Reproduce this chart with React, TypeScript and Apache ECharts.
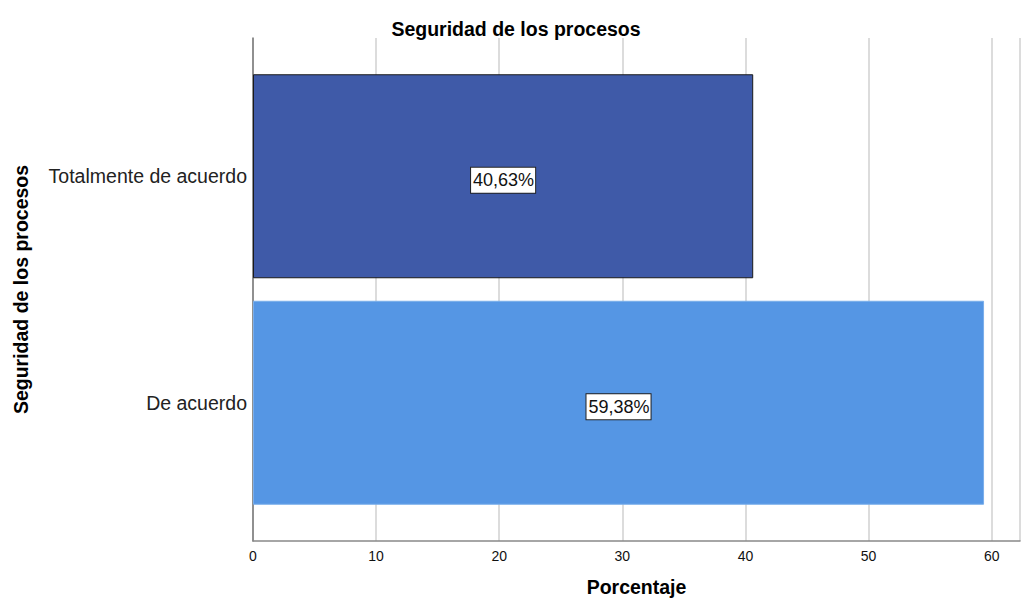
import React, { useEffect, useRef } from "react";
import * as echarts from "echarts";

const categories = ["De acuerdo", "Totalmente de acuerdo"];
const values = [59.38, 40.63];
const barColors = ["#5596E4", "#3F5AA8"];
const barBorders = ["#7AAEEA", "#1a1a1a"];
const xTicks = [0, 10, 20, 30, 40, 50, 60];

const FONT = "'Liberation Sans', Arial, sans-serif";

export default function App() {
  const ref = useRef<HTMLDivElement>(null);
  useEffect(() => {
    if (!ref.current) return;
    const chart = echarts.init(ref.current, null, { renderer: "svg" });
    const xMax = 62.3;
    chart.setOption({
      animation: false,
      backgroundColor: "#ffffff",
      textStyle: { fontFamily: FONT },
      title: {
        text: "Seguridad de los procesos",
        left: 511,
        top: 14,
        textAlign: "center",
        textStyle: { fontFamily: FONT, fontSize: 19.5, fontWeight: "bold", color: "#000" },
      },
      grid: [
        { left: 253, right: 1, top: 63, height: 453, containLabel: false, outerBoundsMode: "none" },
        { left: 253, right: 1, top: 38, height: 503, containLabel: false, outerBoundsMode: "none" },
      ],
      xAxis: [
        {
          gridIndex: 0,
          type: "value",
          min: 0,
          max: xMax,
          show: false,
        },
        {
          gridIndex: 1,
          type: "value",
          min: 0,
          max: xMax,
          interval: 10,
          axisLine: { show: true, lineStyle: { color: "#888", width: 1.5 } },
          axisTick: { show: false },
          axisLabel: {
            color: "#111",
            fontSize: 14,
            fontFamily: FONT,
            margin: 8,
            customValues: xTicks,
            formatter: (v: number) => (xTicks.includes(v) ? String(v) : ""),
          },
          splitLine: { show: true, lineStyle: { color: "#d0d0d0", width: 1.5 } },
          name: "Porcentaje",
          nameLocation: "middle",
          nameGap: 36,
          nameTextStyle: { fontFamily: FONT, fontSize: 19.5, fontWeight: "bold", color: "#000" },
        },
      ],
      yAxis: [
        {
          gridIndex: 0,
          type: "category",
          data: categories,
          axisLine: { show: false },
          axisTick: { show: false },
          axisLabel: { color: "#222", fontSize: 19.5, fontFamily: FONT, margin: 6 },
        },
        {
          gridIndex: 1,
          type: "value",
          min: 0,
          max: 1,
          axisLine: { show: true, lineStyle: { color: "#777", width: 1.5 } },
          axisTick: { show: false },
          axisLabel: { show: false },
          splitLine: { show: false },
          name: "Seguridad de los procesos",
          nameLocation: "middle",
          nameGap: 222,
          nameTextStyle: { fontFamily: FONT, fontSize: 19.5, fontWeight: "bold", color: "#000" },
        },
      ],
      series: [
        {
          type: "bar",
          xAxisIndex: 0,
          yAxisIndex: 0,
          barWidth: 204,
          data: values.map((v, i) => ({
            value: v,
            itemStyle: { color: barColors[i], borderColor: barBorders[i], borderWidth: 1 },
          })),
          label: {
            show: true,
            position: "inside",
            offset: [0, 4],
            formatter: (p: any) => p.value.toFixed(2).replace(".", ",") + "%",
            fontFamily: FONT,
            fontSize: 18,
            color: "#111",
            backgroundColor: "#ffffff",
            borderColor: "#222",
            borderWidth: 1,
            padding: [4, 1, 3, 2],
          },
          z: 3,
        },
      ],
    });
    return () => chart.dispose();
  }, []);
  return (
    <div
      ref={ref}
      style={{ position: "fixed", left: 0, top: 0, width: 1021, height: 600 }}
    />
  );
}
